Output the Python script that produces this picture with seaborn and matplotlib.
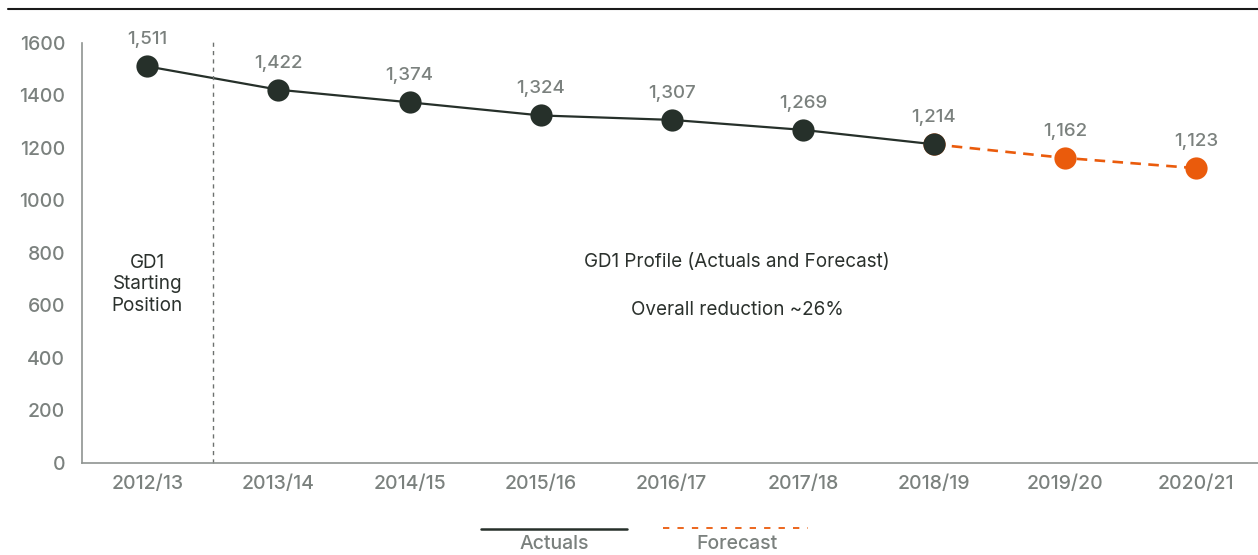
import seaborn as sns
import matplotlib.pyplot as plt
import pandas as pd
from matplotlib.lines import Line2D

years = ['2012/13', '2013/14', '2014/15', '2015/16', '2016/17',
         '2017/18', '2018/19', '2019/20', '2020/21']
actual_years = years[:7]
actual_values = [1511, 1422, 1374, 1324, 1307, 1269, 1214]
forecast_years = years[6:]
forecast_values = [1214, 1162, 1123]

dark = '#26302a'
orange = '#ea5b0c'
grey = '#7b817e'

sns.set_style('white')
plt.rcParams['font.family'] = ['Inter', 'DejaVu Sans']

df_act = pd.DataFrame({'pos': [years.index(y) for y in actual_years], 'value': actual_values})
df_fc = pd.DataFrame({'pos': [years.index(y) for y in forecast_years], 'value': forecast_values})

fig = plt.figure(figsize=(12.58, 5.55), dpi=100)
ax = fig.add_axes([0.065, 0.166, 0.94, 0.7565])

# forecast first so the 2018/19 actual marker sits on top
sns.lineplot(data=df_fc, x='pos', y='value', ax=ax, color=orange, linewidth=1.9,
             linestyle=(0, (4, 2.8)), marker='o', markersize=16, markeredgewidth=0)
sns.lineplot(data=df_act, x='pos', y='value', ax=ax, color=dark, linewidth=1.6,
             marker='o', markersize=16, markeredgewidth=0)

for x, v in zip(df_act['pos'], df_act['value']):
    ax.annotate(f'{v:,}', (x, v), xytext=(0, 13), textcoords='offset points',
                ha='center', va='bottom', fontsize=13.5, fontweight='medium', color=grey)
for x, v in zip(df_fc['pos'][1:], df_fc['value'][1:]):
    ax.annotate(f'{v:,}', (x, v), xytext=(0, 13), textcoords='offset points',
                ha='center', va='bottom', fontsize=13.5, fontweight='medium', color=grey)

ax.axvline(0.5, ymin=0, ymax=1.006, color='#6d716f', linewidth=1,
           linestyle=(0, (3, 3)), clip_on=False)

ax.text(0, 680, 'GD1\nStarting\nPosition', ha='center', va='center',
        fontsize=13.6, color='#2b312d', linespacing=1.25)
ax.text(4.5, 766, 'GD1 Profile (Actuals and Forecast)', ha='center', va='center',
        fontsize=13.6, color='#2b312d')
ax.text(4.5, 583, 'Overall reduction ~26%', ha='center', va='center',
        fontsize=13.6, color='#2b312d')

ax.set_xlim(-0.5, 8.52)
ax.set_ylim(0, 1600)
ax.set_xticks(range(len(years)))
ax.set_xticklabels(years)
ax.set_yticks(range(0, 1601, 200))
ax.set_xlabel('')
ax.set_ylabel('')
ax.tick_params(axis='both', length=0, labelsize=14, labelcolor=grey)
for lab in ax.get_xticklabels() + ax.get_yticklabels():
    lab.set_fontweight('medium')
ax.tick_params(axis='x', pad=9)
ax.tick_params(axis='y', pad=12)
for side in ['top', 'right']:
    ax.spines[side].set_visible(False)
for side in ['left', 'bottom']:
    ax.spines[side].set_color('#8f9491')
    ax.spines[side].set_linewidth(1.2)

# rule under the (cropped) heading
fig.add_artist(Line2D([0.006, 1.0], [0.984, 0.984], color='#1a1a1a', linewidth=1.5))

# legend below the chart, labels under the line samples
fig.add_artist(Line2D([481 / 1258, 627 / 1258], [1 - 529 / 555] * 2, color=dark, linewidth=1.8))
fig.add_artist(Line2D([663 / 1258, 808 / 1258], [1 - 528 / 555] * 2, color=orange,
                      linewidth=1.3, linestyle=(0, (3.5, 4.5))))
fig.text(554 / 1258, 1 - 535 / 555, 'Actuals', ha='center', va='top', fontsize=14,
         fontweight='medium', color=grey)
fig.text(737 / 1258, 1 - 535 / 555, 'Forecast', ha='center', va='top', fontsize=14,
         fontweight='medium', color=grey)

fig.savefig('out.png', dpi=100)
